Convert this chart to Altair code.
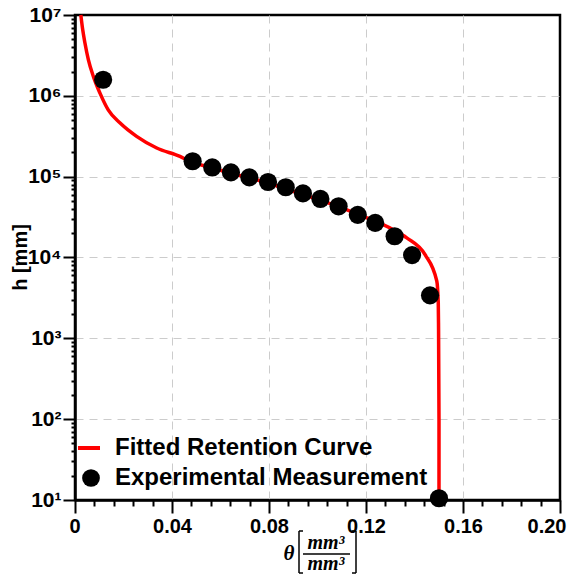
import altair as alt
import pandas as pd

# Experimental measurements
exp_theta = [0.0116, 0.0485, 0.0566, 0.0643, 0.0719, 0.0796, 0.0869, 0.0940,
             0.1012, 0.1087, 0.1166, 0.1238, 0.1318, 0.1390, 0.1464, 0.1501]
exp_h = [1.58e6, 1.55e5, 1.30e5, 1.13e5, 9.8e4, 8.6e4, 7.4e4, 6.2e4,
         5.3e4, 4.3e4, 3.37e4, 2.68e4, 1.83e4, 1.07e4, 3.4e3, 10.5]

# Fitted retention curve
fit_theta = [0.0024, 0.0032, 0.0041, 0.0055, 0.0076, 0.0103, 0.0137, 0.0186,
             0.0254, 0.0337, 0.0433, 0.0474, 0.0560, 0.0660, 0.0763, 0.0900,
             0.1038, 0.1180, 0.1313, 0.1368, 0.1443, 0.1492, 0.1498, 0.1499,
             0.1501, 0.1501]
fit_h = [1e7, 6.5e6, 4.5e6, 2.8e6, 1.73e6, 1.08e6, 6.7e5, 4.6e5,
         3.15e5, 2.26e5, 1.78e5, 1.55e5, 1.30e5, 1.07e5, 8.9e4, 6.6e4,
         4.8e4, 3.3e4, 2.2e4, 1.75e4, 1.09e4, 5.1e3, 2.75e3, 1.56e3,
         100, 10]

x_major_ticks = [0, 0.04, 0.08, 0.12, 0.16, 0.2]
x_minor_ticks = [round(i * 0.008, 3) for i in range(26) if i % 5 != 0]
x_tick_labels = ["0", "0.04", "0.08", "0.12", "0.16", "0.20"]
y_ticks = [m * 10 ** e for e in range(1, 7) for m in range(1, 10)] + [10 ** 7]

fit_df = pd.DataFrame({"theta": fit_theta, "h": fit_h,
                       "i": list(range(len(fit_theta))),
                       "series": ["Fitted Retention Curve"] * len(fit_theta)})
exp_df = pd.DataFrame({"theta": exp_theta, "h": exp_h,
                       "series2": ["Experimental Measurement"] * len(exp_theta)})

FONT = "Liberation Sans"
W = H = 485

y_major = "abs(log(datum.value)/LN10 - round(log(datum.value)/LN10)) < 0.001"

x_axis = alt.Axis(
    values=x_major_ticks,
    labelExpr="datum.value == 0 ? '0' : format(datum.value, '.2f')",
    title=None, orient="bottom",
    grid=True, gridColor="#cccccc", gridDash=[8, 6], gridWidth=1,
    gridOpacity={"condition": {"test": "datum.value > 0.001 && datum.value < 0.199", "value": 1}, "value": 0},
    tickSize=13, tickWidth=2, tickColor="black",
    domainColor="black", domainWidth=2.5,
    labelFont=FONT, labelFontWeight="bold", labelFontSize=20, labelColor="black",
    labelPadding=3, labelFlush=True, labelFlushOffset=6, labelOverlap=False,
)

x_minor_axis = alt.Axis(
    values=x_minor_ticks, labels=False, title=None, orient="bottom",
    grid=False, domain=False, tickSize=6, tickWidth=2, tickColor="black",
)

y_axis = alt.Axis(
    values=y_ticks,
    labelExpr=f"({y_major}) ? '10' + ['⁰','¹','²','³','⁴','⁵','⁶','⁷'][round(log(datum.value)/LN10)] : ''",
    title="h [mm]", titleFont=FONT, titleFontWeight="bold", titleFontSize=20,
    titleColor="black", titleX=-55, titleY=242, titleAngle=270,
    titleAlign="center", titleBaseline="middle",
    grid=True, gridColor="#cccccc", gridDash=[8, 6], gridWidth=1,
    gridOpacity={"condition": {"test": f"({y_major}) && datum.value > 11 && datum.value < 9e6", "value": 1}, "value": 0},
    tickSize={"condition": {"test": y_major, "value": 12}, "value": 4},
    tickWidth=2, tickColor="black",
    domainColor="black", domainWidth=2.5,
    labelFont=FONT, labelFontWeight="bold", labelFontSize=21, labelColor="black",
    labelPadding=2, labelFlush=False, labelOverlap="greedy",
)

xs = alt.Scale(domain=[0, 0.2], nice=False, zero=False)
ys = alt.Scale(type="log", domain=[10, 1e7], nice=False)

line = alt.Chart(fit_df).mark_line(strokeWidth=3.5, clip=False, interpolate="monotone").encode(
    x=alt.X("theta:Q", scale=xs, axis=x_axis),
    y=alt.Y("h:Q", scale=ys, axis=y_axis),
    order="i:Q",
    color=alt.Color("series:N",
                    scale=alt.Scale(domain=["Fitted Retention Curve"], range=["#ff0000"]),
                    legend=alt.Legend(title=None, orient="none", legendX=1, legendY=420,
                                      symbolType="stroke", symbolSize=484, symbolStrokeWidth=4,
                                      labelFont=FONT, labelFontWeight="bold", labelFontSize=24,
                                      labelColor="black", labelOffset=13, padding=0,
                                      labelLimit=500)),
)

points = alt.Chart(exp_df).mark_point(filled=True, color="black", size=330, opacity=1, clip=False).encode(
    x=alt.X("theta:Q", scale=xs, axis=x_minor_axis),
    y=alt.Y("h:Q", scale=ys),
    shape=alt.Shape("series2:N",
                    scale=alt.Scale(domain=["Experimental Measurement"], range=["circle"]),
                    legend=alt.Legend(title=None, orient="none", legendX=4, legendY=451,
                                      symbolSize=314, symbolFillColor="black",
                                      symbolStrokeColor="black", symbolOpacity=1,
                                      labelFont=FONT, labelFontWeight="bold", labelFontSize=24,
                                      labelColor="black", labelOffset=12, padding=0,
                                      labelLimit=500)),
)

one = pd.DataFrame({"k": [0]})
SERIF = "Liberation Serif"
theta_t = alt.Chart(one).mark_text(text="θ", font=SERIF, fontSize=21, fontWeight="bold",
                                   fontStyle="italic", color="black").encode(
    x=alt.value(214), y=alt.value(539))
num_t = alt.Chart(one).mark_text(text="mm³", font=SERIF, fontSize=20, fontWeight="bold",
                                 fontStyle="italic", color="black").encode(
    x=alt.value(251), y=alt.value(528))
den_t = alt.Chart(one).mark_text(text="mm³", font=SERIF, fontSize=20, fontWeight="bold",
                                 fontStyle="italic", color="black").encode(
    x=alt.value(251), y=alt.value(549))
frac = alt.Chart(one).mark_rule(color="black", strokeWidth=1.5).encode(
    x=alt.value(228), x2=alt.value(275), y=alt.value(539))
lb_v = alt.Chart(one).mark_rule(color="black", strokeWidth=1.5).encode(
    x=alt.value(224), y=alt.value(516), y2=alt.value(558))
lb_t = alt.Chart(one).mark_rule(color="black", strokeWidth=1.5).encode(
    x=alt.value(224), x2=alt.value(228), y=alt.value(516))
lb_b = alt.Chart(one).mark_rule(color="black", strokeWidth=1.5).encode(
    x=alt.value(224), x2=alt.value(228), y=alt.value(558))
rb_v = alt.Chart(one).mark_rule(color="black", strokeWidth=1.5).encode(
    x=alt.value(281), y=alt.value(516), y2=alt.value(558))
rb_t = alt.Chart(one).mark_rule(color="black", strokeWidth=1.5).encode(
    x=alt.value(277), x2=alt.value(281), y=alt.value(516))
rb_b = alt.Chart(one).mark_rule(color="black", strokeWidth=1.5).encode(
    x=alt.value(277), x2=alt.value(281), y=alt.value(558))

chart = alt.layer(line, points, theta_t, num_t, den_t, frac,
                  lb_v, lb_t, lb_b, rb_v, rb_t, rb_b).resolve_legend(
    color="independent", shape="independent"
).resolve_axis(x="independent").properties(
    width=W, height=H,
    autosize=alt.AutoSizeParams(type="none"),
    padding={"left": 67, "top": 7, "right": 8, "bottom": 74},
    background="white",
).configure_view(stroke="black", strokeWidth=2.5)

chart.save("out.html", embed_options={"renderer": "svg", "actions": False})
